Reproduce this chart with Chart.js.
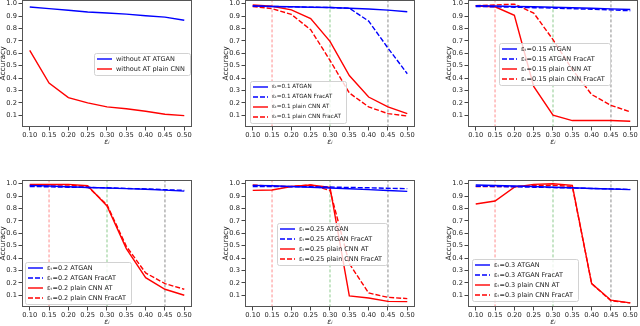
<!DOCTYPE html>
<html>
<head>
<meta charset="utf-8">
<script src="https://cdn.jsdelivr.net/npm/chart.js@4.4.0/dist/chart.umd.min.js"></script>
<style>
  body { margin: 0; background: #fff; width: 640px; height: 326px; overflow: hidden; position: relative; }
  canvas { position: absolute; }
</style>
</head>
<body>
<canvas id="c0" width="201" height="147" style="left:-1px;top:0"></canvas>
<canvas id="c1" width="201" height="147" style="left:222px;top:0"></canvas>
<canvas id="c2" width="201" height="147" style="left:445px;top:0"></canvas>
<canvas id="c3" width="201" height="147" style="left:-1px;top:180px"></canvas>
<canvas id="c4" width="201" height="147" style="left:222px;top:180px"></canvas>
<canvas id="c5" width="201" height="147" style="left:445px;top:180px"></canvas>
<script>
// attack strength on x
const eps = [0.10, 0.15, 0.20, 0.25, 0.30, 0.35, 0.40, 0.45, 0.50];
const xTicks = [0.10, 0.15, 0.20, 0.25, 0.30, 0.35, 0.40, 0.45, 0.50];
const yTicks = [0.1, 0.2, 0.3, 0.4, 0.5, 0.6, 0.7, 0.8, 0.9, 1.0];
const guideX = [0.15, 0.30, 0.45];

// panel 1 : without adversarial training
const noAtAtgan = [0.973, 0.960, 0.947, 0.933, 0.925, 0.916, 0.903, 0.892, 0.867];
const noAtCnn = [0.624, 0.360, 0.242, 0.200, 0.167, 0.152, 0.132, 0.108, 0.097];

// eps_t = 0.1
const t01Atgan = [0.981, 0.978, 0.975, 0.972, 0.969, 0.964, 0.957, 0.948, 0.935];
const t01AtganFrac = [0.981, 0.978, 0.975, 0.972, 0.969, 0.964, 0.860, 0.642, 0.435];
const t01Cnn = [0.990, 0.980, 0.950, 0.880, 0.696, 0.420, 0.247, 0.167, 0.113];
const t01CnnFrac = [0.978, 0.960, 0.914, 0.790, 0.543, 0.280, 0.167, 0.113, 0.094];

// eps_t = 0.15
const t015Atgan = [0.985, 0.982, 0.978, 0.975, 0.971, 0.967, 0.963, 0.958, 0.953];
const t015AtganFrac = [0.978, 0.975, 0.972, 0.968, 0.965, 0.960, 0.955, 0.950, 0.943];
const t015Cnn = [0.982, 0.975, 0.906, 0.333, 0.100, 0.057, 0.057, 0.057, 0.052];
const t015CnnFrac = [0.985, 0.990, 0.997, 0.925, 0.710, 0.470, 0.267, 0.180, 0.127];

// eps_t = 0.2
const t02Atgan = [0.987, 0.982, 0.976, 0.970, 0.965, 0.960, 0.955, 0.948, 0.940];
const t02AtganFrac = [0.978, 0.975, 0.972, 0.970, 0.967, 0.962, 0.958, 0.952, 0.946];
const t02Cnn = [0.995, 0.995, 0.995, 0.984, 0.820, 0.476, 0.242, 0.148, 0.100];
const t02CnnFrac = [0.984, 0.990, 0.990, 0.976, 0.830, 0.495, 0.280, 0.194, 0.148];

// eps_t = 0.25
const t025Atgan = [0.987, 0.983, 0.978, 0.972, 0.966, 0.959, 0.952, 0.945, 0.938];
const t025AtganFrac = [0.978, 0.977, 0.976, 0.975, 0.973, 0.970, 0.967, 0.963, 0.960];
const t025Cnn = [0.946, 0.949, 0.978, 0.990, 0.970, 0.095, 0.078, 0.050, 0.048];
const t025CnnFrac = [0.990, 0.980, 0.978, 0.990, 0.946, 0.355, 0.118, 0.083, 0.073];

// eps_t = 0.3
const t03Atgan = [0.990, 0.986, 0.982, 0.977, 0.972, 0.967, 0.962, 0.957, 0.952];
const t03AtganFrac = [0.980, 0.978, 0.975, 0.972, 0.969, 0.965, 0.962, 0.958, 0.954];
const t03Cnn = [0.836, 0.860, 0.973, 0.995, 1.000, 0.987, 0.194, 0.060, 0.038];
const t03CnnFrac = [0.978, 0.978, 0.978, 0.984, 0.987, 0.978, 0.194, 0.055, 0.038];

const FONT = "DejaVu Sans";
Chart.defaults.font.family = FONT;

function line(label, values, color, dashed) {
  return {
    label: label,
    data: eps.map((x, i) => ({ x: x, y: values[i] })),
    borderColor: color,
    borderWidth: 1.4,
    borderDash: dashed ? [5, 2] : [],
    pointRadius: 0,
    tension: 0,
    fill: false
  };
}

function guide(x, color) {
  return {
    data: [{ x: x, y: -0.2 }, { x: x, y: 1.3 }],
    borderColor: color,
    borderWidth: 1,
    borderDash: [3, 2],
    pointRadius: 0
  };
}

const guideColors = ["rgba(255,0,0,0.45)", "rgba(0,140,0,0.45)", "rgba(110,110,110,0.8)"];

// box around the axes like matplotlib spines
const frame = {
  id: "frame",
  afterDatasetsDraw(chart) {
    const a = chart.chartArea, ctx = chart.ctx;
    ctx.save();
    ctx.strokeStyle = "#555";
    ctx.lineWidth = 1;
    ctx.strokeRect(Math.round(a.left) + 0.5, Math.round(a.top) + 0.5,
      Math.round(a.right - a.left) - 1, Math.round(a.bottom - a.top) - 1);
    ctx.restore();
  }
};

// legend inside the plot, text sized so the box gets the wanted width
const legendBox = {
  id: "legendBox",
  afterDraw(chart, args, opts) {
    const ctx = chart.ctx, a = chart.chartArea;
    const items = chart.data.datasets.filter(d => d.label);
    ctx.save();
    ctx.font = "10px '" + FONT + "'";
    const tw10 = Math.max(...items.map(d => ctx.measureText(d.label).width));
    const size = 10 * (opts.w - 27) / tw10;
    ctx.font = size.toFixed(2) + "px '" + FONT + "'";
    const x0 = Math.round(a.left + opts.x), y0 = Math.round(a.top + opts.y);
    const w = opts.w, h = items.length * 10 + 2;
    ctx.fillStyle = "rgba(255,255,255,0.8)";
    ctx.strokeStyle = "#d2d2d2";
    ctx.lineWidth = 1;
    ctx.beginPath();
    ctx.roundRect(x0 + 0.5, y0 + 0.5, w, h, 2);
    ctx.fill();
    ctx.stroke();
    items.forEach((d, i) => {
      const cy = y0 + 1 + 10 * (i + 0.5);
      ctx.strokeStyle = d.borderColor;
      ctx.lineWidth = 1.4;
      ctx.setLineDash(d.borderDash);
      ctx.beginPath();
      ctx.moveTo(x0 + 3, cy);
      ctx.lineTo(x0 + 18, cy);
      ctx.stroke();
      ctx.setLineDash([]);
      ctx.fillStyle = "#222";
      ctx.textBaseline = "middle";
      ctx.fillText(d.label, x0 + 22, cy);
    });
    ctx.restore();
  }
};

function makeChart(id, lines, guides, legendPos) {
  const datasets = lines.slice();
  if (guides) guideX.forEach((x, i) => datasets.push(guide(x, guideColors[i])));
  return new Chart(document.getElementById(id), {
    type: "line",
    data: { datasets: datasets },
    plugins: [frame, legendBox],
    options: {
      responsive: false,
      animation: false,
      layout: { padding: { left: 0, top: 0, right: 8, bottom: 0 } },
      plugins: {
        legend: { display: false },
        tooltip: { enabled: false },
        legendBox: legendPos
      },
      scales: {
        x: {
          type: "linear",
          min: 0.08,
          max: 0.52,
          afterBuildTicks: s => { s.ticks = xTicks.map(v => ({ value: v })); },
          afterFit: s => { s.height = 20; s.paddingLeft = 0; s.paddingRight = 0; },
          ticks: {
            callback: v => v.toFixed(2),
            font: { size: 6.7 },
            color: "#222",
            padding: 1,
            maxRotation: 0,
            autoSkip: false
          },
          grid: { drawOnChartArea: false, tickLength: 3.5, color: "#444" },
          border: { display: false },
          title: { display: true, text: "εᵢ", font: { size: 7.5, style: "italic" }, color: "#222", padding: 0 }
        },
        y: {
          min: 0.005,
          max: 1.03,
          afterBuildTicks: s => { s.ticks = yTicks.map(v => ({ value: v })); },
          afterFit: s => { s.width = 23; s.paddingTop = 0; s.paddingBottom = 0; },
          ticks: {
            callback: v => v.toFixed(1),
            font: { size: 6.7 },
            color: "#222",
            padding: 1.5,
            autoSkip: false
          },
          grid: { drawOnChartArea: false, tickLength: 3.5, color: "#444" },
          border: { display: false },
          title: { display: true, text: "Accuracy", font: { size: 7.5 }, color: "#222", padding: 0 }
        }
      }
    }
  });
}

const BLUE = "#0000ff", RED = "#ff0000";

makeChart("c0", [
  line("without AT ATGAN", noAtAtgan, BLUE, false),
  line("without AT plain CNN", noAtCnn, RED, false)
], false, { x: 72, y: 53, w: 96 });

makeChart("c1", [
  line("εₜ=0.1 ATGAN", t01Atgan, BLUE, false),
  line("εₜ=0.1 ATGAN FracAT", t01AtganFrac, BLUE, true),
  line("εₜ=0.1 plain CNN AT", t01Cnn, RED, false),
  line("εₜ=0.1 plain CNN FracAT", t01CnnFrac, RED, true)
], true, { x: 5, y: 81, w: 96 });

makeChart("c2", [
  line("εₜ=0.15 ATGAN", t015Atgan, BLUE, false),
  line("εₜ=0.15 ATGAN FracAT", t015AtganFrac, BLUE, true),
  line("εₜ=0.15 plain CNN AT", t015Cnn, RED, false),
  line("εₜ=0.15 plain CNN FracAT", t015CnnFrac, RED, true)
], true, { x: 31, y: 43, w: 111 });

makeChart("c3", [
  line("εₜ=0.2 ATGAN", t02Atgan, BLUE, false),
  line("εₜ=0.2 ATGAN FracAT", t02AtganFrac, BLUE, true),
  line("εₜ=0.2 plain CNN AT", t02Cnn, RED, false),
  line("εₜ=0.2 plain CNN FracAT", t02CnnFrac, RED, true)
], true, { x: 3, y: 82, w: 106 });

makeChart("c4", [
  line("εₜ=0.25 ATGAN", t025Atgan, BLUE, false),
  line("εₜ=0.25 ATGAN FracAT", t025AtganFrac, BLUE, true),
  line("εₜ=0.25 plain CNN AT", t025Cnn, RED, false),
  line("εₜ=0.25 plain CNN FracAT", t025CnnFrac, RED, true)
], true, { x: 32, y: 43, w: 110 });

makeChart("c5", [
  line("εₜ=0.3 ATGAN", t03Atgan, BLUE, false),
  line("εₜ=0.3 ATGAN FracAT", t03AtganFrac, BLUE, true),
  line("εₜ=0.3 plain CNN AT", t03Cnn, RED, false),
  line("εₜ=0.3 plain CNN FracAT", t03CnnFrac, RED, true)
], true, { x: 4, y: 79, w: 106 });
</script>
</body>
</html>
